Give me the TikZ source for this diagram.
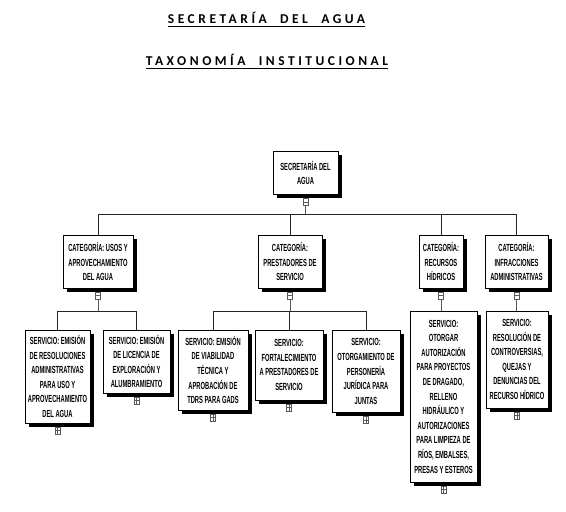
\documentclass[tikz,border=0pt]{standalone}
\usepackage{fontspec}
\setmainfont{Liberation Sans}
\newfontfamily\boxfont[FakeStretch=0.56]{Liberation Sans}
\newfontfamily\titlefont[LetterSpace=26]{Carlito}
\usetikzlibrary{positioning,shadows}

\begin{document}
\begin{tikzpicture}[x=1pt,y=-1pt,
  box/.style={draw=black, fill=white, line width=0.6pt, align=center, inner sep=1pt,
    font=\boxfont\bfseries\fontsize{10.3}{14.6}\selectfont,
    drop shadow={shadow xshift=3.5pt, shadow yshift=-3.5pt, opacity=1, fill=black}},
  markm/.style={draw=gray!70!black, fill=white, minimum width=5pt, minimum height=7pt,
    inner sep=0pt, line width=0.5pt,
    path picture={\draw[gray!70!black, line width=0.5pt]
      (path picture bounding box.west) -- (path picture bounding box.east);}},
  markp/.style={markm,
    path picture={\draw[gray!70!black, line width=0.5pt]
      (path picture bounding box.west) -- (path picture bounding box.east)
      (path picture bounding box.north) -- (path picture bounding box.south);}},
  stub/.style={draw=gray!70!black, line width=0.6pt},
  link/.style={draw=black!85, line width=0.6pt},
  headline/.style={font=\titlefont\bfseries\fontsize{13.5}{15}\selectfont, inner sep=0pt}]

\useasboundingbox (0,0) rectangle (566,512);

% titles
\node[headline] (title1) at (266.5,18) {SECRETARÍA\hspace{0.5em} DEL\hspace{0.5em} AGUA};
\node[headline] (title2) at (267,60) {TAXONOMÍA\hspace{0.5em} INSTITUCIONAL};
\draw[line width=1.1pt] ([yshift=-2.5pt]title1.base west) -- ([yshift=-2.5pt]title1.base east);
\draw[line width=1.1pt] ([yshift=-2.5pt]title2.base west) -- ([yshift=-2.5pt]title2.base east);

% root
\node[box, minimum width=65pt, minimum height=43pt] (root) at (305.5,173) {SECRETARÍA DEL\\AGUA};
\node[markm, below=3.5pt of root] (rootm) {};

% categories
\node[box, minimum width=70pt, minimum height=53pt] (cat1) at (98,261.5) {CATEGORÍA: USOS Y\\APROVECHAMIENTO\\DEL AGUA};
\node[box, minimum width=64pt, minimum height=53pt] (cat2) at (290,261.5) {CATEGORÍA:\\PRESTADORES DE\\SERVICIO};
\node[box, minimum width=44pt, minimum height=53pt] (cat3) at (441,261.5) {CATEGORÍA:\\RECURSOS\\HÍDRICOS};
\node[box, minimum width=63pt, minimum height=53pt] (cat4) at (516.5,261.5) {CATEGORÍA:\\INFRACCIONES\\ADMINISTRATIVAS};
\foreach \c in {cat1,cat2,cat3,cat4}
  \node[markm, below=3.5pt of \c] (\c m) {};

% services
\node[box, minimum width=65pt, minimum height=93pt] (svc1a) at (57.5,376.5) {SERVICIO: EMISIÓN\\DE RESOLUCIONES\\ADMINISTRATIVAS\\PARA USO Y\\APROVECHAMIENTO\\DEL AGUA};
\node[box, minimum width=67pt, minimum height=63pt] (svc1b) at (136.5,361.5) {SERVICIO: EMISIÓN\\DE LICENCIA DE\\EXPLORACIÓN Y\\ALUMBRAMIENTO};
\node[box, minimum width=70pt, minimum height=80pt] (svc2a) at (213,370) {SERVICIO: EMISIÓN\\DE VIABILIDAD\\TÉCNICA Y\\APROBACIÓN DE\\TDRS PARA GADS};
\node[box, minimum width=68pt, minimum height=70pt] (svc2b) at (289,365) {SERVICIO:\\FORTALECIMIENTO\\A PRESTADORES DE\\SERVICIO};
\node[box, minimum width=68pt, minimum height=82pt] (svc2c) at (366,371.5) {SERVICIO:\\OTORGAMIENTO DE\\PERSONERÍA\\JURÍDICA PARA\\JUNTAS};
\node[box, minimum width=67pt, minimum height=171pt] (svc3) at (443.5,396.5) {SERVICIO:\\OTORGAR\\AUTORIZACIÓN\\PARA PROYECTOS\\DE DRAGADO,\\RELLENO\\HIDRÁULICO Y\\AUTORIZACIONES\\PARA LIMPIEZA DE\\RÍOS, EMBALSES,\\PRESAS Y ESTEROS};
\node[box, minimum width=62pt, minimum height=97pt] (svc4) at (517,359.5) {SERVICIO:\\RESOLUCIÓN DE\\CONTROVERSIAS,\\QUEJAS Y\\DENUNCIAS DEL\\RECURSO HÍDRICO};
\foreach \s in {svc1a,svc1b,svc2a,svc2b,svc2c,svc3,svc4}
  \node[markp, below=3.5pt of \s] (\s m) {};

% connectors
\coordinate (rootbus) at (305.5,214);
\coordinate (cat1bus) at (98,311);
\coordinate (cat2bus) at (290,311);
\draw[stub] (rootm) -- (rootbus);
\foreach \c in {cat1,cat2,cat3,cat4}
  \draw[link] (rootbus) -| (\c.north);
\draw[stub] (cat1m) -- (cat1bus);
\draw[link] (cat1bus) -| (svc1a.north);
\draw[link] (cat1bus) -| (svc1b.north);
\draw[stub] (cat2m) -- (cat2bus);
\foreach \s in {svc2a,svc2b,svc2c}
  \draw[link] (cat2bus) -| (\s.north);
\draw[stub] (cat3m) -- (cat3m |- svc3.north);
\draw[stub] (cat4m) -- (cat4m |- svc4.north);
\end{tikzpicture}
\end{document}
